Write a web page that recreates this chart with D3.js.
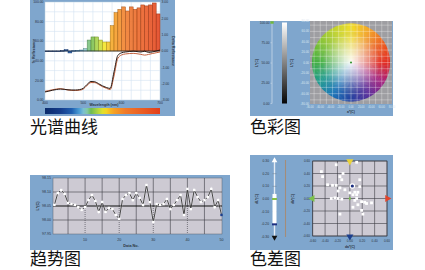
<!DOCTYPE html>
<html>
<head>
<meta charset="utf-8">
<script src="https://cdn.jsdelivr.net/npm/d3@7"></script>
<style>
  html, body { margin: 0; padding: 0; background: #fff; }
  svg { display: block; }
</style>
</head>
<body>
<svg id="chart" width="425" height="270"></svg>
<script>
// ---------- Spectral curve (光谱曲线) ----------
const wavelengths = [400, 410, 420, 430, 440, 450, 460, 470, 480, 490, 500, 510, 520, 530, 540,
                     550, 560, 570, 580, 590, 600, 610, 620, 630, 640, 650, 660, 670, 680, 690, 700];
// reflectance difference per 10 nm band (right axis), band starts at wavelengths[i]
const deltaReflectance = [-0.04, -0.03, -0.02, -0.02, 0.02, 0.08, -0.12, 0.02, 0.03, 0.06,
                          0.15, 0.67, 0.86, 0.86, 0.67, 0.55, 0.55, 1.55, 2.35, 2.55,
                          2.70, 2.45, 2.70, 2.55, 2.64, 2.82, 2.76, 2.82, 2.94, 2.27];
// % reflectance (left axis)
const standardReflectance = [8.2, 9.0, 10.0, 10.7, 11.2, 10.9, 10.4, 10.2, 10.2, 10.6, 12.0,
                             16.0, 18.9, 18.6, 16.6, 14.4, 12.8, 11.8, 28.6, 45.5, 48.2,
                             49.0, 49.5, 49.8, 49.4, 49.0, 49.8, 48.6, 49.0, 50.0, 51.0];
const sampleReflectance = [8.8, 9.6, 10.5, 11.2, 11.5, 11.0, 10.2, 9.8, 9.7, 10.0, 11.2,
                           15.0, 17.8, 17.7, 15.8, 13.6, 12.0, 10.6, 24.5, 42.5, 46.0,
                           47.0, 47.4, 47.6, 47.2, 46.6, 45.8, 46.5, 47.4, 48.2, 49.0];
const specXTicks = [400, 500, 600, 700];
const specLeftTicks = [0, 20, 40, 60, 80, 100];
const specRightTicks = [-3, -2, -1, 0, 1, 2, 3];

// ---------- Colour chart (色彩图) ----------
const lightnessTicks = [0, 25, 50, 75, 100];
const chromaTicks = [-80, -60, -40, -20, 0, 20, 40, 60, 80];
const sampleLab = { L: 100, a: 0, b: 0 };

// ---------- Trend chart (趋势图) ----------
const trendValues = [98.054, 98.096, 98.107, 98.093, 98.061, 98.057, 98.054, 98.046, 98.036, 98.046,
                     98.071, 98.089, 98.068, 98.029, 98.064, 98.029, 98.043, 98.039, 98.018, 98.004,
                     98.075, 98.089, 98.096, 98.071, 98.096, 98.079, 98.054, 98.125, 98.064, 97.993,
                     98.057, 98.054, 98.057, 98.075, 98.039, 98.054, 98.071, 98.089, 98.018, 98.111,
                     98.039, 98.107, 98.082, 98.064, 98.071, 98.082, 98.111, 98.046, 98.071, 98.018];
const trendTicks = [97.95, 98.00, 98.05, 98.10, 98.15];
const dataNoTicks = [10, 20, 30, 40, 50];

// ---------- Colour difference (色差图) ----------
const diffPoints = [
  [-0.22, 0.54], [0.11, 0.58], [-0.46, 0.43], [-0.44, 0.35], [-0.16, 0.35], [-0.11, 0.40],
  [-0.13, 0.30], [0.16, 0.30], [-0.36, 0.22], [-0.28, 0.21], [-0.22, 0.21], [-0.16, 0.17],
  [-0.19, 0.12], [-0.08, 0.14], [0.08, 0.10], [0.00, 0.09], [0.05, 0.06], [0.11, 0.06],
  [0.13, 0.10], [0.16, 0.19], [-0.30, 0.00], [-0.24, 0.01], [-0.19, 0.00], [-0.13, -0.01],
  [0.08, -0.03], [0.11, 0.00], [0.19, -0.05], [0.24, -0.06], [0.13, -0.10], [0.05, -0.14],
  [0.19, -0.19], [0.27, -0.08], [0.21, -0.25], [-0.16, -0.25], [0.35, -0.07]
];
const focusPoint = [0.04, 0.20];
const diffTicks = [-0.60, -0.40, -0.20, 0.00, 0.20, 0.40, 0.60];
const dLTicks = [-0.30, -0.20, -0.10, 0.00, 0.10, 0.20, 0.30];
const dLBand = [-0.20, 0.04];
const dLSample = -0.20;
const dLStandard = 0.00;

// ====================================================================
const svg = d3.select('#chart');
const defs = svg.append('defs');
const PANEL = '#7fa6cd';
const TINY = 'Liberation Sans, Arial, sans-serif';
const CJK = '"Noto Sans CJK SC", "Noto Sans", sans-serif';

function tinyText(g, x, y, txt, opts = {}) {
  return g.append('text')
    .attr('x', x).attr('y', y)
    .attr('font-family', TINY)
    .attr('font-size', opts.size || 4)
    .attr('fill', opts.fill || '#2b3440')
    .attr('text-anchor', opts.anchor || 'middle')
    .attr('font-weight', opts.weight || 'normal')
    .attr('transform', opts.rotate ? `rotate(${opts.rotate},${x},${y})` : null)
    .text(txt);
}

// ---------------- spectral curve ----------------
{
  const g = svg.append('g');
  g.append('rect').attr('x', 30).attr('y', 0).attr('width', 145).attr('height', 116).attr('fill', PANEL);

  const x = d3.scaleLinear([400, 700], [45, 160]);
  const yR = d3.scaleLinear([0, 100], [100, 2]);
  const yD = d3.scaleLinear([-3, 3], [100, 2]);
  const spec = d3.scaleLinear()
    .domain([400, 440, 470, 490, 505, 520, 540, 555, 575, 610, 660, 700])
    .range(['#0c2a6a', '#143c8a', '#1f5eb0', '#4d9fd6', '#8fcfcf', '#6dbb52', '#b8d840',
            '#f2e424', '#f7a824', '#f07a2a', '#ea5a22', '#e23e1a']);

  g.append('rect').attr('x', 45).attr('y', 2).attr('width', 115).attr('height', 98)
    .attr('fill', '#fff').attr('stroke', '#b9cde0').attr('stroke-width', 0.5);

  // grid
  g.append('g').selectAll('line').data(d3.range(10, 100, 10)).join('line')
    .attr('x1', 45).attr('x2', 160).attr('y1', d => yR(d)).attr('y2', d => yR(d))
    .attr('stroke', '#d3e3f1').attr('stroke-width', 0.6);
  g.append('g').selectAll('line').data(d3.range(425, 700, 25)).join('line')
    .attr('x1', d => x(d)).attr('x2', d => x(d)).attr('y1', 2).attr('y2', 100)
    .attr('stroke', '#d3e3f1').attr('stroke-width', 0.6);

  // difference bars
  const bands = deltaReflectance.map((v, i) => ({ w: wavelengths[i], v }));
  g.append('g').selectAll('rect').data(bands).join('rect')
    .attr('x', d => x(d.w))
    .attr('width', d => x(d.w + 10) - x(d.w))
    .attr('y', d => yD(Math.max(d.v, 0)))
    .attr('height', d => Math.max(0.6, Math.abs(yD(d.v) - yD(0))))
    .attr('fill', d => spec(d.w + 5))
    .attr('fill-opacity', 0.88)
    .attr('stroke', d => d3.color(spec(d.w + 5)).darker(1.1))
    .attr('stroke-width', 0.5);

  // zero line
  g.append('line').attr('x1', 45).attr('x2', 160).attr('y1', yD(0)).attr('y2', yD(0))
    .attr('stroke', '#1d2530').attr('stroke-width', 0.7);

  // reflectance curves
  const line = d3.line().x((d, i) => x(wavelengths[i])).y(d => yR(d)).curve(d3.curveMonotoneX);
  g.append('path').attr('d', line(sampleReflectance)).attr('fill', 'none')
    .attr('stroke', '#c4603c').attr('stroke-width', 1);
  g.append('path').attr('d', line(standardReflectance)).attr('fill', 'none')
    .attr('stroke', '#2a1a14').attr('stroke-width', 1);

  // axes labels
  specLeftTicks.forEach(t => tinyText(g, 43.5, yR(t) + 1.2, t.toFixed(2), { anchor: 'end', size: 3.4 }));
  specRightTicks.forEach(t => tinyText(g, 161.5, yD(t) + 1.2, t.toFixed(2), { anchor: 'start', size: 3.4 }));
  specXTicks.forEach(t => tinyText(g, x(t), 104, String(t), { size: 3.4 }));
  tinyText(g, 34.5, 51, '% Reflectance', { rotate: -90, size: 3.6, weight: 'bold' });
  tinyText(g, 172, 51, 'Delta Reflectance', { rotate: 90, size: 3.6, weight: 'bold' });
  tinyText(g, 104, 105.5, 'Wavelength (nm)', { size: 3.6, weight: 'bold' });

  // spectrum strip
  const grad = defs.append('linearGradient').attr('id', 'spectrumStrip');
  d3.range(400, 701, 10).forEach(w => {
    grad.append('stop').attr('offset', (w - 400) / 300).attr('stop-color', spec(w));
  });
  g.append('rect').attr('x', 45).attr('y', 108).attr('width', 115).attr('height', 6)
    .attr('fill', 'url(#spectrumStrip)');
}

// ---------------- colour chart ----------------
{
  const g = svg.append('g');
  g.append('rect').attr('x', 250).attr('y', 21).attr('width', 143).attr('height', 95).attr('fill', PANEL);

  // L* axis
  const yL = d3.scaleLinear([0, 100], [103.5, 22.5]);
  g.append('line').attr('x1', 272).attr('x2', 272).attr('y1', yL(100)).attr('y2', yL(0))
    .attr('stroke', '#c9d9e8').attr('stroke-width', 0.8);
  lightnessTicks.forEach(t => {
    g.append('line').attr('x1', 270.5).attr('x2', 272).attr('y1', yL(t)).attr('y2', yL(t))
      .attr('stroke', '#c9d9e8').attr('stroke-width', 0.6);
    tinyText(g, 269.5, yL(t) + 1.1, t.toFixed(2), { anchor: 'end', size: 3.2 });
  });
  g.append('rect').attr('x', 270.3).attr('y', yL(sampleLab.L) - 1.2).attr('width', 3.4).attr('height', 2.4)
    .attr('fill', '#6fb83a');
  tinyText(g, 258, 63, 'L*(C)', { rotate: -90, size: 3.4, weight: 'bold' });

  // lightness gradient bar
  const lg = defs.append('linearGradient').attr('id', 'lightBar')
    .attr('x1', 0).attr('y1', 0).attr('x2', 0).attr('y2', 1);
  lg.append('stop').attr('offset', 0).attr('stop-color', '#ffffff');
  lg.append('stop').attr('offset', 1).attr('stop-color', '#050505');
  g.append('rect').attr('x', 282).attr('y', yL(100)).attr('width', 5).attr('height', yL(0) - yL(100))
    .attr('fill', 'url(#lightBar)');
  tinyText(g, 292.5, 63, 'L*(C)', { rotate: -90, size: 3.4, weight: 'bold' });

  // a*/b* plane
  const xa = d3.scaleLinear([-80, 80], [310, 392]);
  const yb = d3.scaleLinear([-80, 80], [104, 21]);
  g.append('rect').attr('x', 310).attr('y', 21).attr('width', 82).attr('height', 83).attr('fill', '#9e9ea2');

  const cx = xa(0), cy = yb(0), r = xa(76) - xa(0);
  const hue = d3.scaleLinear()
    .domain([0, 30, 60, 90, 120, 150, 180, 210, 240, 270, 300, 330, 360])
    .range(['#e3261a', '#ee5a1c', '#f5a023', '#f1dc22', '#bcd22a', '#7cc232', '#3ead3e',
            '#1d9c8c', '#1874b8', '#1f3d9e', '#5a2c9a', '#a8207c', '#e3261a']);
  const arc = d3.arc().innerRadius(0).outerRadius(r);
  const wheel = g.append('g').attr('transform', `translate(${cx},${cy})`);
  wheel.selectAll('path').data(d3.range(0, 360, 2)).join('path')
    .attr('d', t => arc({ startAngle: (90 - t - 1.3) * Math.PI / 180, endAngle: (90 - t + 1.3) * Math.PI / 180 }))
    .attr('fill', t => hue(t));
  const core = defs.append('radialGradient').attr('id', 'wheelCore');
  core.append('stop').attr('offset', 0).attr('stop-color', '#fff').attr('stop-opacity', 0.95);
  core.append('stop').attr('offset', 0.35).attr('stop-color', '#fff').attr('stop-opacity', 0.55);
  core.append('stop').attr('offset', 0.75).attr('stop-color', '#fff').attr('stop-opacity', 0.08);
  core.append('stop').attr('offset', 1).attr('stop-color', '#fff').attr('stop-opacity', 0);
  wheel.append('circle').attr('r', r).attr('fill', 'url(#wheelCore)');

  // grid over plane
  const gridVals = d3.range(-72, 73, 12);
  g.append('g').selectAll('line').data(gridVals).join('line')
    .attr('x1', d => xa(d)).attr('x2', d => xa(d)).attr('y1', 21).attr('y2', 104)
    .attr('stroke', '#fff').attr('stroke-opacity', 0.6).attr('stroke-width', 0.5);
  g.append('g').selectAll('line').data(gridVals).join('line')
    .attr('y1', d => yb(d)).attr('y2', d => yb(d)).attr('x1', 310).attr('x2', 392)
    .attr('stroke', '#fff').attr('stroke-opacity', 0.6).attr('stroke-width', 0.5);

  g.append('circle').attr('cx', xa(sampleLab.a)).attr('cy', yb(sampleLab.b)).attr('r', 1.1).attr('fill', '#3f9a3a');

  chromaTicks.forEach(t => {
    tinyText(g, 309, yb(t) + 1, t.toFixed(2), { anchor: 'end', size: 3, fill: '#dce6f0' });
    tinyText(g, xa(t), 107.5, t.toFixed(2), { size: 2.6, fill: '#dce6f0' });
  });
  tinyText(g, 351, 113, 'a*(C)', { size: 3.4, weight: 'bold' });
}

// ---------------- trend chart ----------------
{
  const g = svg.append('g');
  g.append('rect').attr('x', 30).attr('y', 175).attr('width', 200).attr('height', 75).attr('fill', PANEL);

  const x = d3.scaleLinear([1, 50], [54.4, 221.5]);
  const y = d3.scaleLinear([97.95, 98.15], [234, 178]);
  g.append('rect').attr('x', 53).attr('y', 178).attr('width', 169).attr('height', 56)
    .attr('fill', '#cdcad3').attr('stroke', '#5e6470').attr('stroke-width', 0.5);

  // vertical grid: solid above the centre line, dotted below on the decades
  d3.range(5, 50, 5).forEach(n => {
    g.append('line').attr('x1', x(n)).attr('x2', x(n)).attr('y1', 178).attr('y2', y(98.05))
      .attr('stroke', '#3c3c44').attr('stroke-width', 0.6);
    g.append('line').attr('x1', x(n)).attr('x2', x(n)).attr('y1', y(98.05)).attr('y2', 234)
      .attr('stroke', '#3c3c44').attr('stroke-width', 0.6)
      .attr('stroke-dasharray', n % 10 === 0 ? '1,1' : null);
  });
  [98.00, 98.10].forEach(v => {
    g.append('line').attr('x1', 53).attr('x2', 222).attr('y1', y(v)).attr('y2', y(v))
      .attr('stroke', '#3c3c44').attr('stroke-width', 0.6);
  });
  g.append('line').attr('x1', 53).attr('x2', 222).attr('y1', y(98.05)).attr('y2', y(98.05))
    .attr('stroke', '#111').attr('stroke-width', 1.2);

  const line = d3.line().x((d, i) => x(i + 1)).y(d => y(d));
  g.append('path').attr('d', line(trendValues)).attr('fill', 'none')
    .attr('stroke', '#fff').attr('stroke-width', 1.6).attr('stroke-opacity', 0.5);
  g.append('path').attr('d', line(trendValues)).attr('fill', 'none')
    .attr('stroke', '#1a1a1a').attr('stroke-width', 0.8);
  g.append('g').selectAll('rect').data(trendValues).join('rect')
    .attr('x', (d, i) => x(i + 1) - 1.2).attr('y', d => y(d) - 1.2)
    .attr('width', 2.4).attr('height', 2.4)
    .attr('fill', (d, i) => i === trendValues.length - 1 ? '#1c3f8c' : '#fff');

  trendTicks.forEach(t => tinyText(g, 51, y(t) + 1.2, t.toFixed(2), { anchor: 'end', size: 3.6 }));
  dataNoTicks.forEach(t => tinyText(g, x(t), 240.5, String(t), { size: 3.6 }));
  tinyText(g, 131, 246.5, 'Data No.', { size: 3.8, weight: 'bold' });
  tinyText(g, 39, 206, 'L*(C)', { rotate: -90, size: 3.8, weight: 'bold' });
}

// ---------------- colour difference ----------------
{
  const g = svg.append('g');
  g.append('rect').attr('x', 250).attr('y', 155).attr('width', 143).attr('height', 95).attr('fill', PANEL);

  // dL* scale
  const yL = d3.scaleLinear([-0.30, 0.30], [237, 161]);
  g.append('line').attr('x1', 274.5).attr('x2', 274.5).attr('y1', yL(0.3)).attr('y2', yL(-0.3))
    .attr('stroke', '#e4ecf4').attr('stroke-width', 1.4);
  dLTicks.forEach(t => {
    g.append('line').attr('x1', 272.5).attr('x2', 276.5).attr('y1', yL(t)).attr('y2', yL(t))
      .attr('stroke', '#6e7e90').attr('stroke-width', 0.5);
    tinyText(g, 269, yL(t) + 1.1, t.toFixed(2), { anchor: 'end', size: 3.3 });
  });
  g.append('rect').attr('x', 272.5).attr('y', yL(dLBand[1])).attr('width', 4)
    .attr('height', yL(dLBand[0]) - yL(dLBand[1])).attr('fill', '#fff');
  g.append('rect').attr('x', 272).attr('y', yL(dLStandard) - 1).attr('width', 5).attr('height', 2).attr('fill', '#86c04a');
  g.append('rect').attr('x', 272).attr('y', yL(dLSample) - 1).attr('width', 5).attr('height', 2).attr('fill', '#1c2f80');
  g.append('path').attr('d', d3.symbol(d3.symbolTriangle, 14)())
    .attr('transform', `translate(274.5,${yL(0.3) - 0.5})`).attr('fill', '#fff');
  g.append('path').attr('d', d3.symbol(d3.symbolTriangle, 14)())
    .attr('transform', `translate(274.5,${yL(-0.3) + 0.5}) rotate(180)`).attr('fill', '#111');
  tinyText(g, 258, 199, 'dL*(C)', { rotate: -90, size: 3.4, weight: 'bold' });

  g.append('line').attr('x1', 285.5).attr('x2', 285.5).attr('y1', 160).attr('y2', 237)
    .attr('stroke', '#a38c7a').attr('stroke-width', 1.1);
  tinyText(g, 294, 199, 'db*(C)', { rotate: -90, size: 3.4, weight: 'bold' });

  // da*/db* plane
  const x = d3.scaleLinear([-0.6, 0.6], [312.7, 387]);
  const y = d3.scaleLinear([-0.6, 0.6], [236, 161]);
  g.append('rect').attr('x', 312.7).attr('y', 161).attr('width', 74.3).attr('height', 75)
    .attr('fill', '#cdcad3').attr('stroke', '#3c3c44').attr('stroke-width', 0.6);
  diffTicks.forEach(t => {
    g.append('line').attr('x1', x(t)).attr('x2', x(t)).attr('y1', 161).attr('y2', 236)
      .attr('stroke', '#3c3c44').attr('stroke-width', 0.6);
    g.append('line').attr('y1', y(t)).attr('y2', y(t)).attr('x1', 312.7).attr('x2', 387)
      .attr('stroke', '#3c3c44').attr('stroke-width', 0.6);
    tinyText(g, 310, y(t) + 1.1, t.toFixed(2), { anchor: 'end', size: 3.1 });
    tinyText(g, x(t), 241.5, t.toFixed(2), { size: 3.1 });
  });
  tinyText(g, 350, 248, 'da*(C)', { size: 3.4, weight: 'bold' });

  // axis end markers
  const tri = d3.symbol(d3.symbolTriangle, 22)();
  g.append('path').attr('d', tri).attr('transform', `translate(${x(0)},${y(0.6) + 0.3}) rotate(180)`).attr('fill', '#e8d23a');
  g.append('path').attr('d', tri).attr('transform', `translate(${x(0)},${y(-0.6) + 0.5}) rotate(180)`).attr('fill', '#1c3f8c');
  g.append('path').attr('d', tri).attr('transform', `translate(${x(-0.6) - 0.3},${y(0)}) rotate(-90)`).attr('fill', '#7cc04a');
  g.append('path').attr('d', tri).attr('transform', `translate(${x(0.6) + 0.3},${y(0)}) rotate(90)`).attr('fill', '#e0452c');
  g.append('path').attr('d', d3.symbol(d3.symbolDiamond, 5)()).attr('transform', `translate(${x(0)},${y(0)})`)
    .attr('fill', '#7cc04a');

  g.append('g').selectAll('rect').data(diffPoints).join('rect')
    .attr('x', d => x(d[0]) - 1.4).attr('y', d => y(d[1]) - 1.4)
    .attr('width', 2.8).attr('height', 2.8).attr('fill', '#fff');
  g.append('circle').attr('cx', x(focusPoint[0])).attr('cy', y(focusPoint[1])).attr('r', 2.8).attr('fill', '#fff');
  g.append('circle').attr('cx', x(focusPoint[0])).attr('cy', y(focusPoint[1])).attr('r', 1.6).attr('fill', '#1c2f80');
}

// ---------------- captions ----------------
[[30, 133, '光谱曲线'], [250, 133, '色彩图'], [30, 265, '趋势图'], [250, 265, '色差图']].forEach(([cx, cy, t]) => {
  svg.append('text').attr('x', cx).attr('y', cy)
    .attr('font-family', CJK).attr('font-size', 17).attr('fill', '#111').text(t);
});
</script>
</body>
</html>
